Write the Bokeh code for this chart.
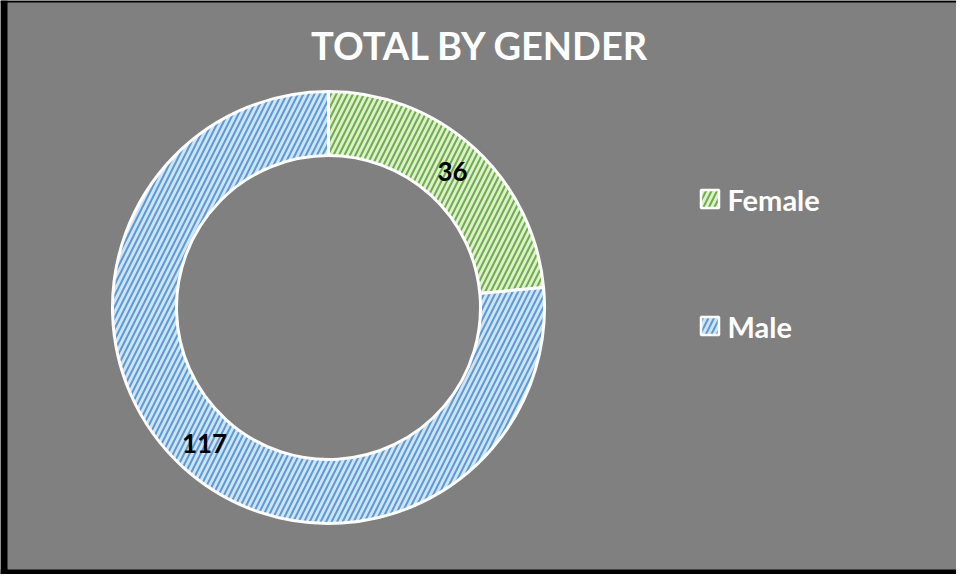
import math
from bokeh.plotting import figure
from bokeh.models import Range1d, ColumnDataSource
from bokeh.core.properties import value
from bokeh.embed import file_html
from bokeh.resources import INLINE

# ---- data ----
title_text = "TOTAL BY GENDER"
categories = ["Female", "Male"]
counts = [36, 117]
fill_colors = ["#dcefd0", "#d0e3f6"]
hatch_colors = ["#70ad47", "#5b9bd5"]

# ---- geometry (page pixels) ----
W, H = 956, 574
cx, cy_screen = 336, 315
r_in, r_out = 152, 216

# data coords: x = page x, y = 582 - page y
p = figure(width=W, height=H, output_backend="svg", toolbar_location=None,
           x_range=Range1d(8, 964), y_range=Range1d(0, 574),
           min_border=0, min_border_left=0, min_border_right=0,
           min_border_top=0, min_border_bottom=0,
           border_fill_color="#808080", background_fill_color="#808080",
           outline_line_color=None)
p.axis.visible = False
p.grid.visible = False

# frame border (decoration)
p.quad(left=[8, 8, 8], right=[15, 964, 964], bottom=[0, 572, 0], top=[574, 574, 5],
       fill_color="black", line_color=None)

cy = 582 - cy_screen
total = sum(counts)
starts, ends, mids = [], [], []
a = math.pi / 2
for c in counts:
    span = 2 * math.pi * c / total
    starts.append(a)
    ends.append(a - span)
    mids.append(a - span / 2)
    a -= span

src = ColumnDataSource(dict(
    cat=categories, val=counts, start=starts, end=ends,
    fill=fill_colors, hatch=hatch_colors,
    lx=[cx + (r_in + r_out) / 2 * math.cos(m) for m in mids],
    ly=[cy + (r_in + r_out) / 2 * math.sin(m) for m in mids],
    txt=[str(v) for v in counts],
))

p.annular_wedge(x=cx, y=cy, inner_radius=r_in, outer_radius=r_out,
                start_angle="start", end_angle="end", direction="clock",
                source=src, fill_color="fill", line_color="white", line_width=3,
                hatch_pattern="/", hatch_color="hatch", hatch_scale=11, hatch_weight=2)

p.text(x="lx", y="ly", text="txt", source=src, text_align="center",
       text_baseline="middle", text_color="black",
       text_font=value("Lato"), text_font_style="bold", text_font_size="26px")

# title
p.text(x=[488], y=[582 - 52], text=[title_text], text_align="center",
       text_baseline="middle", text_color="white",
       text_font=value("Lato"), text_font_style="bold", text_font_size="38px")

# legend
leg_y = [582 - 206.5, 582 - 333.5]
lsrc = ColumnDataSource(dict(y=leg_y, cat=categories, fill=fill_colors, hatch=hatch_colors))
p.rect(x=717.5, y="y", width=18, height=18, source=lsrc, fill_color="fill",
       line_color="white", line_width=2.5, hatch_pattern="/", hatch_color="hatch",
       hatch_scale=11, hatch_weight=2)
p.text(x=735, y="y", text="cat", source=lsrc, text_align="left", text_baseline="middle",
       text_color="white", text_font=value("Lato"), text_font_style="bold",
       text_font_size="29px")

open("out.html", "w").write(file_html(p, INLINE))
